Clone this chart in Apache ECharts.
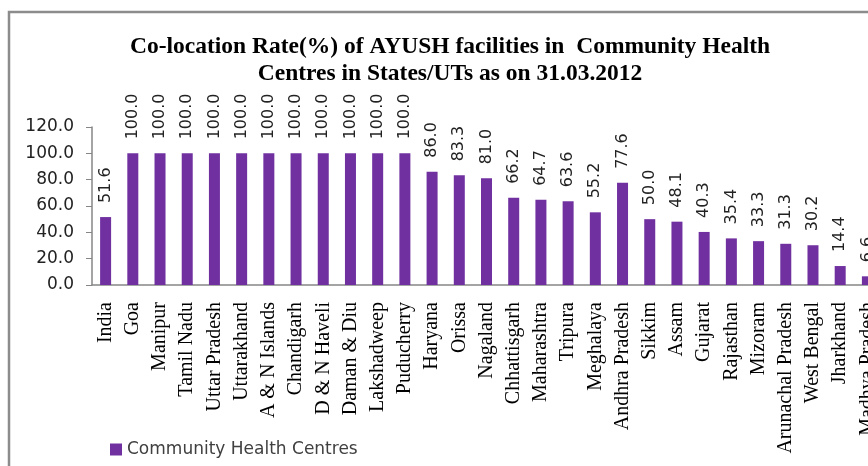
<!DOCTYPE html>
<html>
<head>
<meta charset="utf-8">
<script src="https://cdn.jsdelivr.net/npm/echarts@6/dist/echarts.min.js"></script>
<style>
  html, body { margin: 0; padding: 0; background: #fff; }
  #chart { width: 868px; height: 466px; }
</style>
</head>
<body>
<div id="chart"></div>
<script>
// 州/UT 名称
const states = [
  'India', 'Goa', 'Manipur', 'Tamil Nadu', 'Uttar Pradesh', 'Uttarakhand',
  'A & N Islands', 'Chandigarh', 'D & N Haveli', 'Daman & Diu', 'Lakshadweep',
  'Puducherry', 'Haryana', 'Orissa', 'Nagaland', 'Chhattisgarh', 'Maharashtra',
  'Tripura', 'Meghalaya', 'Andhra Pradesh', 'Sikkim', 'Assam', 'Gujarat',
  'Rajasthan', 'Mizoram', 'Arunachal Pradesh', 'West Bengal', 'Jharkhand',
  'Madhya Pradesh'
]
// Co-location rate (%)
const chcRate = [
  51.6, 100.0, 100.0, 100.0, 100.0, 100.0,
  100.0, 100.0, 100.0, 100.0, 100.0,
  100.0, 86.0, 83.3, 81.0, 66.2, 64.7,
  63.6, 55.2, 77.6, 50.0, 48.1, 40.3,
  35.4, 33.3, 31.3, 30.2, 14.4,
  6.6
]
const yTicks = [0, 20, 40, 60, 80, 100, 120]

const chartDom = document.getElementById('chart')
const myChart = echarts.init(chartDom)

const option = {
  animation: false,
  // 外框（原图是截下来的，只看得到左边和上边）
  graphic: [
    {
      type: 'rect',
      shape: { x: 9, y: 12, width: 1000, height: 1000 },
      style: { fill: 'none', stroke: '#8c8c8c', lineWidth: 2.5 },
      silent: true
    }
  ],
  title: {
    text: 'Co-location Rate(%) of AYUSH facilities in  Community Health\nCentres in States/UTs as on 31.03.2012',
    left: 445,
    top: 28,
    textAlign: 'center',
    textStyle: {
      fontFamily: 'Liberation Serif',
      fontWeight: 'bold',
      fontSize: 23.5,
      lineHeight: 27,
      color: '#000'
    }
  },
  legend: {
    left: 105,
    top: 436,
    icon: 'rect',
    itemWidth: 12,
    itemHeight: 12,
    itemGap: 5,
    textStyle: { fontFamily: 'DejaVu Sans', fontSize: 17, color: '#404040' },
    data: ['Community Health Centres']
  },
  // 图比窗口宽，最后一个类别被截掉一半
  grid: {
    left: 92,
    top: 127,
    bottom: 181,
    width: 789,
    containLabel: false,
    outerBoundsMode: 'none'
  },
  xAxis: {
    type: 'category',
    data: states,
    axisLine: { lineStyle: { color: '#868686', width: 1.5 } },
    axisTick: { length: 5, lineStyle: { color: '#868686' } },
    axisLabel: {
      rotate: 90,
      interval: 0,
      margin: 17,
      fontFamily: 'Liberation Serif',
      fontSize: 20,
      color: '#000'
    }
  },
  yAxis: {
    type: 'value',
    min: yTicks[0],
    max: yTicks[yTicks.length - 1],
    interval: 20,
    splitLine: { show: false },
    axisLine: { show: true, lineStyle: { color: '#868686', width: 1.5 } },
    axisTick: { show: true, length: 6, lineStyle: { color: '#868686' } },
    axisLabel: {
      margin: 18,
      fontFamily: 'DejaVu Sans',
      fontSize: 17,
      color: '#222',
      formatter: v => v.toFixed(1)
    }
  },
  series: [
    {
      name: 'Community Health Centres',
      type: 'bar',
      data: chcRate,
      barWidth: 11,
      itemStyle: { color: '#7030a0' },
      label: {
        show: true,
        position: 'top',
        rotate: 90,
        align: 'left',
        verticalAlign: 'middle',
        distance: 14,
        fontFamily: 'DejaVu Sans',
        fontSize: 16,
        color: '#222',
        formatter: p => p.value.toFixed(1)
      }
    }
  ]
}

option && myChart.setOption(option)
</script>
</body>
</html>
